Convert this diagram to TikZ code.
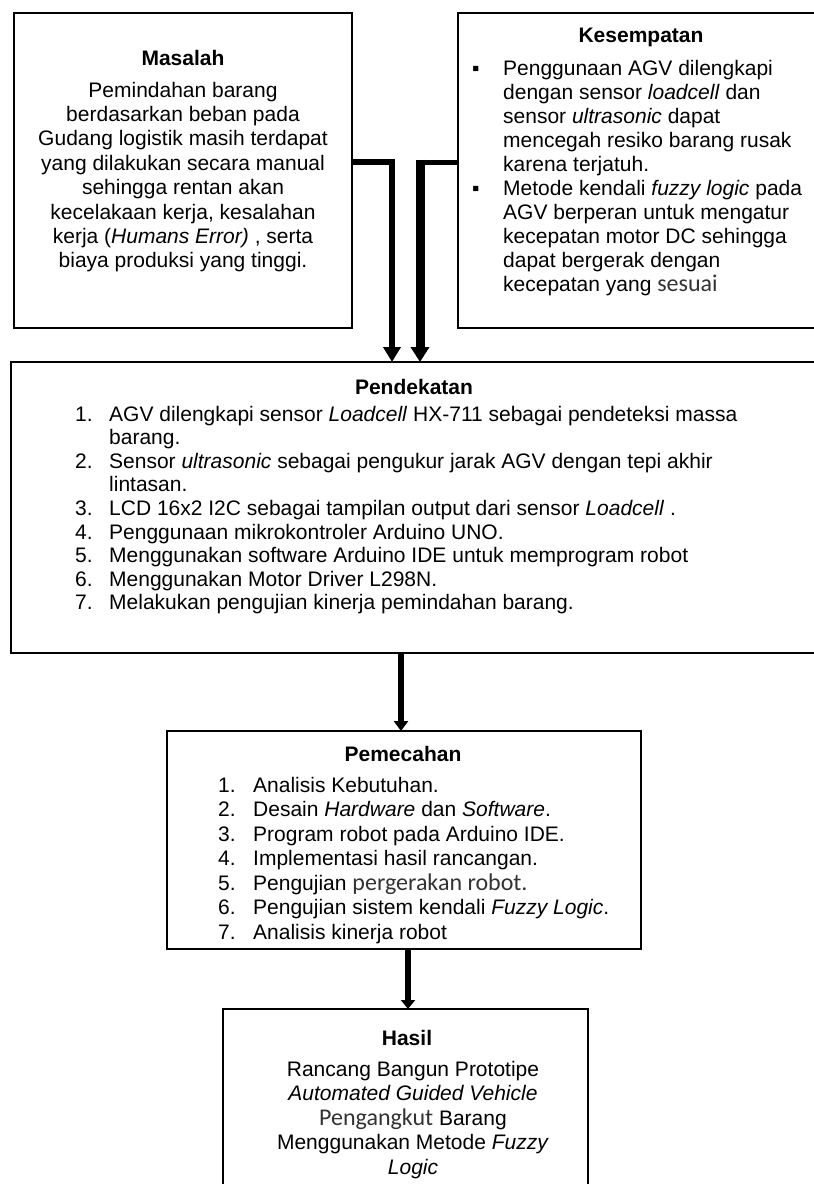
\documentclass[tikz,border=0pt]{standalone}
\usepackage{fontspec}
\setmainfont{Liberation Sans}
\newfontfamily\carl{Carlito}
\usetikzlibrary{arrows.meta}
\newcommand{\cb}[1]{{\carl\fontsize{24bp}{24.4bp}\selectfont\color{black!80}#1}}
\begin{document}
\begin{tikzpicture}[x=1bp,y=-1bp,
  box/.style={draw=black, line width=2.5bp, inner sep=0pt, outer sep=0pt, fill=white},
  ttl/.style={anchor=base, inner sep=0pt, font=\bfseries\fontsize{21bp}{24bp}\selectfont},
  txt/.style={inner sep=0pt, font=\fontsize{21bp}{24.4bp}\selectfont},
  conn/.style={draw=black, line join=miter}
]
\useasboundingbox (0,0) rectangle (814,1184);

% boxes
\node[box, minimum width=338bp, minimum height=315bp] (mas) at (183,170.5) {};
\node[box, minimum width=360bp, minimum height=315bp] (kes) at (638,170.5) {};
\node[box, minimum width=807bp, minimum height=291bp] (pend) at (414.5,507.5) {};
\node[box, minimum width=474bp, minimum height=218bp] (pem) at (404,840) {};
\node[box, minimum width=365bp, minimum height=181bp] (has) at (405.5,1099.5) {};

% Masalah
\node[ttl] (masT) at (183,65) {Masalah};
\node[txt, anchor=base] (masB) at (183,97) {\begin{tabular}[t]{@{}c@{}}
Pemindahan barang\\
berdasarkan beban pada\\
Gudang logistik masih terdapat\\
yang dilakukan secara manual\\
sehingga rentan akan\\
kecelakaan kerja, kesalahan\\
kerja (\textit{Humans Error)} , serta\\
biaya produksi yang tinggi.
\end{tabular}};

% Kesempatan
\node[ttl] (kesT) at (641,42) {Kesempatan};
\node[txt, anchor=base west, font=\fontsize{21bp}{24.1bp}\selectfont] (kesB) at (472,75) {\begin{tabular}[t]{@{}p{31bp}@{}l@{}}
▪ & Penggunaan AGV dilengkapi\\
 & dengan sensor \textit{loadcell} dan\\
 & sensor \textit{ultrasonic} dapat\\
 & mencegah resiko barang rusak\\
 & karena terjatuh.\\
▪ & Metode kendali \textit{fuzzy logic} pada\\
 & AGV berperan untuk mengatur\\
 & kecepatan motor DC sehingga\\
 & dapat bergerak dengan\\
 & kecepatan yang \cb{sesuai}
\end{tabular}};

% Pendekatan
\node[ttl] (pendT) at (414,394) {Pendekatan};
\node[txt, anchor=base west, font=\fontsize{21bp}{23.6bp}\selectfont] (pendB) at (75,421) {\begin{tabular}[t]{@{}p{34bp}@{}l@{}}
1. & AGV dilengkapi sensor \textit{Loadcell} HX-711 sebagai pendeteksi massa\\
 & barang.\\
2. & Sensor \textit{ultrasonic} sebagai pengukur jarak AGV dengan tepi akhir\\
 & lintasan.\\
3. & LCD 16x2 I2C sebagai tampilan output dari sensor \textit{Loadcell} .\\
4. & Penggunaan mikrokontroler Arduino UNO.\\
5. & Menggunakan software Arduino IDE untuk memprogram robot\\
6. & Menggunakan Motor Driver L298N.\\
7. & Melakukan pengujian kinerja pemindahan barang.
\end{tabular}};

% Pemecahan
\node[ttl] (pemT) at (403,761) {Pemecahan};
\node[txt, anchor=base west, font=\fontsize{21bp}{24.5bp}\selectfont] (pemB) at (218,792) {\begin{tabular}[t]{@{}p{35bp}@{}l@{}}
1. & Analisis Kebutuhan.\\
2. & Desain \textit{Hardware} dan \textit{Software}.\\
3. & Program robot pada Arduino IDE.\\
4. & Implementasi hasil rancangan.\\
5. & Pengujian \cb{pergerakan robot.}\\
6. & Pengujian sistem kendali \textit{Fuzzy Logic}.\\
7. & Analisis kinerja robot
\end{tabular}};

% Hasil
\node[ttl] (hasT) at (407,1045) {Hasil};
\node[txt, anchor=base, font=\fontsize{21bp}{24.5bp}\selectfont] (hasB) at (413,1076) {\begin{tabular}[t]{@{}c@{}}
Rancang Bangun Prototipe\\
\textit{Automated Guided Vehicle}\\
\cb{Pengangkut} Barang\hspace{18bp}\\
Menggunakan Metode \textit{Fuzzy}\\
\textit{Logic}
\end{tabular}};

% connectors
\coordinate (c1) at (392,162);
\coordinate (c2) at (420,162);
\coordinate (c2t) at (420,159.5);
\coordinate (a3) at (401,0);
\coordinate (a4) at (408,0);
\draw[conn, line width=5.5bp, -{Triangle[width=17bp,length=15bp]}]
  (mas.east |- c1) -- (c1) -- (c1 |- pend.north);
\draw[conn, line width=5bp] (kes.west |- c2) -- (c2);
\draw[conn, line width=9bp, -{Triangle[width=18bp,length=15bp]}]
  (c2t) -- (c2 |- pend.north);
\draw[conn, line width=6.5bp, -{Triangle[width=14bp,length=10bp]}]
  (a3 |- pend.south) -- (a3 |- pem.north);
\draw[conn, line width=6.5bp, -{Triangle[width=14bp,length=9bp]}]
  (a4 |- pem.south) -- (a4 |- has.north);
\end{tikzpicture}
\end{document}
